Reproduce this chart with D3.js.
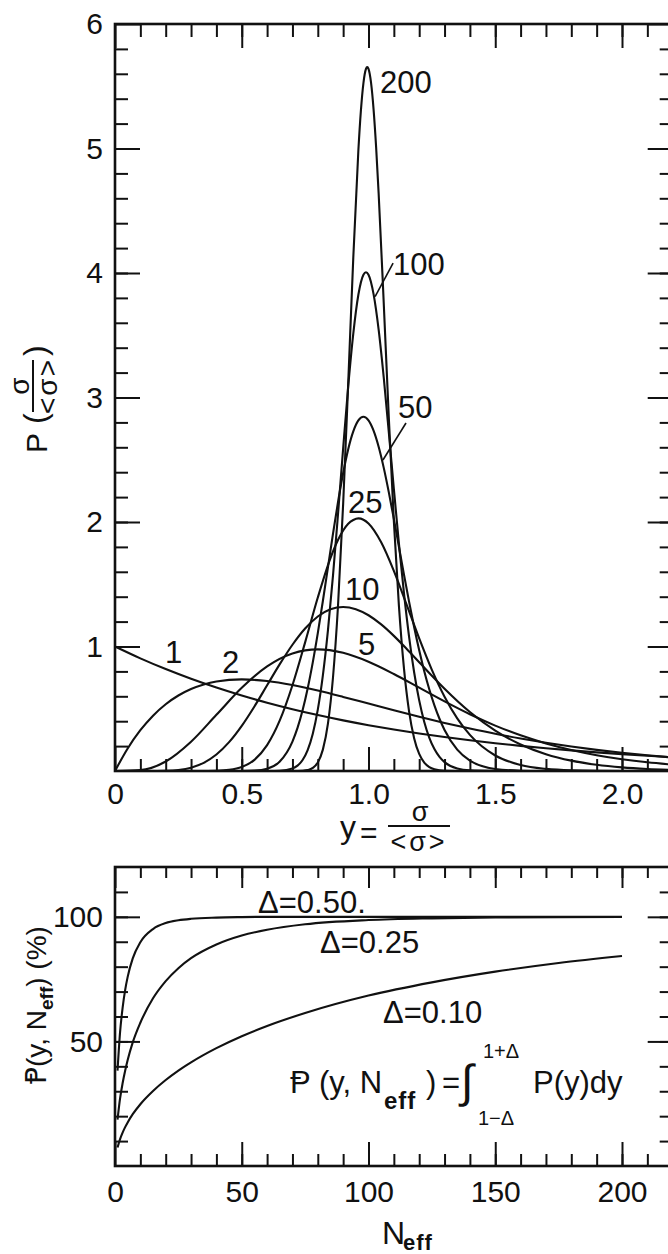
<!DOCTYPE html>
<html><head><meta charset="utf-8">
<script src="https://cdn.jsdelivr.net/npm/d3@7"></script>
<style>
html,body{margin:0;padding:0;background:#fff;}
svg{display:block;}
text{font-family:"Liberation Sans", Arial, "DejaVu Sans", sans-serif; fill:#111;}
</style></head><body>
<svg id="c" width="668" height="1254"></svg>
<script>
// ---------- DATA: top panel, P(y) for N_eff = 1,2,5,10,25,50,100,200 ----------
const pdf_1 = [[0,1],[0.1,0.9048],[0.2,0.8187],[0.3,0.7408],[0.4,0.6703],[0.5,0.6065],[0.6,0.5488],[0.7,0.4966],[0.8,0.4493],[0.9,0.4066],[1.0,0.3679],[1.1,0.3329],[1.2,0.3012],[1.3,0.2725],[1.4,0.2466],[1.5,0.2231],[1.6,0.2019],[1.7,0.1827],[1.8,0.1653],[1.9,0.1496],[2.0,0.1353],[2.1,0.1225],[2.2,0.1108]];
const pdf_2 = [[0,0],[0.05,0.181],[0.1,0.3275],[0.15,0.4445],[0.2,0.5363],[0.25,0.6065],[0.3,0.6586],[0.35,0.6952],[0.4,0.719],[0.5,0.7358],[0.6,0.7229],[0.7,0.6905],[0.8,0.646],[0.9,0.595],[1.0,0.5413],[1.1,0.4876],[1.2,0.4355],[1.3,0.3862],[1.4,0.3408],[1.5,0.2987],[1.6,0.2609],[1.7,0.2269],[1.8,0.1967],[1.9,0.17],[2.0,0.1465],[2.1,0.126],[2.2,0.1081]];
const pdf_5 = [[0,0],[0.1,0.0079],[0.2,0.0766],[0.3,0.2353],[0.4,0.4512],[0.5,0.6681],[0.6,0.8403],[0.7,0.9441],[0.8,0.9769],[0.9,0.9491],[1.0,0.8774],[1.1,0.7792],[1.2,0.6693],[1.3,0.5592],[1.4,0.4561],[1.5,0.3646],[1.6,0.2863],[1.7,0.2213],[1.8,0.1687],[1.9,0.127],[2.0,0.0946],[2.1,0.0697],[2.2,0.051]];
const pdf_10 = [[0.15,0.0002],[0.2,0.0019],[0.25,0.0086],[0.3,0.027],[0.35,0.0656],[0.4,0.1323],[0.45,0.2316],[0.5,0.3626],[0.55,0.5186],[0.6,0.6883],[0.65,0.8581],[0.7,1.0141],[0.75,1.1445],[0.8,1.2408],[0.85,1.2987],[0.9,1.3175],[0.95,1.3001],[1.0,1.2511],[1.05,1.1773],[1.1,1.0853],[1.15,0.9821],[1.2,0.8736],[1.25,0.7651],[1.3,0.6605],[1.4,0.4735],[1.5,0.3241],[1.6,0.2131],[1.7,0.1353],[1.8,0.0833],[1.9,0.0498],[2.0,0.0291],[2.1,0.0166],[2.2,0.0093]];
const pdf_25 = [[0.35,0.0003],[0.4,0.0018],[0.45,0.0089],[0.5,0.0318],[0.55,0.0897],[0.6,0.2075],[0.65,0.4059],[0.7,0.6887],[0.75,1.0332],[0.8,1.3934],[0.85,1.7103],[0.88,1.8574],[0.9,1.932],[0.92,1.9858],[0.94,2.016],[0.96,2.0288],[0.98,2.0184],[1.0,1.9881],[1.05,1.837],[1.1,1.6075],[1.15,1.3383],[1.2,1.0648],[1.25,0.8126],[1.3,0.5968],[1.35,0.4229],[1.4,0.2901],[1.5,0.1247],[1.6,0.0482],[1.7,0.0169],[1.8,0.0055],[2.0,0.0005],[2.2,0.0]];
const pdf_50 = [[0.5,0.0003],[0.55,0.0032],[0.6,0.0184],[0.65,0.0763],[0.7,0.2366],[0.72,0.346],[0.74,0.4871],[0.76,0.6622],[0.78,0.8702],[0.8,1.1068],[0.82,1.3652],[0.84,1.6357],[0.86,1.9062],[0.88,2.1634],[0.9,2.3936],[0.92,2.5851],[0.94,2.7278],[0.96,2.8157],[0.98,2.8451],[1.0,2.8162],[1.02,2.7336],[1.04,2.6044],[1.06,2.4366],[1.08,2.24],[1.1,2.0252],[1.12,1.8014],[1.14,1.5776],[1.16,1.3607],[1.18,1.1566],[1.2,0.9695],[1.22,0.8017],[1.24,0.6543],[1.26,0.5273],[1.28,0.4196],[1.3,0.3299],[1.35,0.1721],[1.4,0.084],[1.5,0.0166],[1.6,0.0026],[1.7,0.0]];
const pdf_100 = [[0.6,0.0001],[0.65,0.0019],[0.7,0.0197],[0.72,0.0433],[0.74,0.0883],[0.76,0.1675],[0.78,0.2969],[0.8,0.4926],[0.82,0.7681],[0.84,1.1299],[0.86,1.5708],[0.88,2.07],[0.9,2.5914],[0.92,3.0901],[0.94,3.5137],[0.96,3.8255],[0.98,3.9868],[0.99,4.0062],[1.0,3.9861],[1.02,3.8305],[1.04,3.5454],[1.06,3.1629],[1.08,2.7235],[1.1,2.267],[1.12,1.8266],[1.14,1.4259],[1.16,1.0794],[1.18,0.7932],[1.2,0.567],[1.22,0.3941],[1.24,0.2667],[1.26,0.176],[1.28,0.1133],[1.3,0.0711],[1.35,0.0201],[1.4,0.005],[1.5,0.0002]];
const pdf_200 = [[0.7,0.0001],[0.72,0.0005],[0.74,0.002],[0.76,0.0076],[0.78,0.0244],[0.8,0.0689],[0.82,0.1717],[0.84,0.3805],[0.86,0.7528],[0.88,1.3375],[0.9,2.1449],[0.92,3.1171],[0.94,4.1236],[0.96,4.9839],[0.97,5.3038],[0.98,5.526],[0.99,5.6395],[0.995,5.6538],[1.0,5.6396],[1.01,5.5287],[1.02,5.3149],[1.03,5.0128],[1.04,4.64],[1.06,3.7634],[1.08,2.8438],[1.1,2.0068],[1.12,1.3263],[1.14,0.8222],[1.16,0.4797],[1.18,0.2637],[1.2,0.1369],[1.22,0.0673],[1.24,0.0313],[1.26,0.0139],[1.3,0.0023],[1.4,0.0]];
const topCurves = [pdf_1, pdf_2, pdf_5, pdf_10, pdf_25, pdf_50, pdf_100, pdf_200];
const topLabels = ["1","2","5","10","25","50","100","200"];
const topLabelPos = [[0.197,0.867],[0.422,0.787],[0.959,0.932],[0.907,1.373],[0.919,2.072],[1.116,2.835],[1.097,3.984],[1.045,5.446]];
const topLeaders = [[[1.097,4.08],[1.026,3.81]],[[1.148,2.795],[1.057,2.498]]];

const topXTicks = [0, 0.5, 1.0, 1.5, 2.0];
const topXTickLabels = ["0","0.5","1.0","1.5","2.0"];
const topYTicks = [1,2,3,4,5,6];
const topYTickLabels = ["1","2","3","4","5","6"];

// ---------- DATA: bottom panel, probability (%) vs N_eff ----------
const nEff = [1,2,3,4,5,7,10,15,20,25,30,40,50,60,75,100,125,150,175,200];
const prob_050 = [38.3,53.7,63.5,70.6,75.9,83.3,89.8,95.1,97.5,98.6,99.2,99.7,99.9,100,100,100,100,100,100,100];
const prob_025 = [18.6,27.1,33.2,38.2,42.5,49.6,57.5,67.3,74.2,79.4,83.4,88.9,92.5,94.8,97.0,98.7,99.4,99.75,99.9,99.95];
const prob_010 = [7.4,10.8,13.4,15.6,17.5,20.8,24.8,30.1,34.5,38.3,41.6,47.3,52.1,56.2,61.4,68.4,73.7,78.0,81.5,84.3];
const botXTicks = [0,50,100,150,200];
const botXTickLabels = ["0","50","100","150","200"];
const botYTicks = [50,100];
const botYTickLabels = ["50","100"];

// ---------- DRAW ----------
const svg = d3.select("#c");
const ink = "#111";

// scales
const xT = d3.scaleLinear([0,2.2],[115,672.7]);
const yT = d3.scaleLinear([0,6],[771,24]);
const xB = d3.scaleLinear([0,220],[115,672.7]);
const yB = d3.scaleLinear([0,120],[1166,867]);

function styleAxis(g, fs){
  g.select(".domain").remove();
  g.selectAll(".tick line").attr("stroke", ink).attr("stroke-width", 2);
  g.selectAll(".tick text").attr("font-size", fs).attr("fill", ink)
   .attr("font-family", '"Liberation Sans", Arial, sans-serif');
}
function axes(xs, ys, xMinor, yMinor, xMaj, xMajLab, yMaj, yMajLab, xLen, yLen, xPad){
  const [x0,x1] = xs.range(), [y0,y1] = ys.range();
  svg.append("g").attr("transform",`translate(0,${y0})`)
    .call(d3.axisBottom(xs).tickValues(xMinor).tickSize(-xLen[0]).tickFormat("")).call(g=>styleAxis(g,30));
  svg.append("g").attr("transform",`translate(0,${y0})`)
    .call(d3.axisBottom(xs).tickValues(xMaj).tickSize(-xLen[1]).tickPadding(xPad).tickFormat((d,i)=>xMajLab[i])).call(g=>styleAxis(g,30));
  svg.append("g").attr("transform",`translate(0,${y1})`)
    .call(d3.axisTop(xs).tickValues(xMinor).tickSize(-xLen[2]).tickFormat("")).call(g=>styleAxis(g,30));
  svg.append("g").attr("transform",`translate(0,${y1})`)
    .call(d3.axisTop(xs).tickValues(xMaj).tickSize(-xLen[3]).tickFormat("")).call(g=>styleAxis(g,30));
  svg.append("g").attr("transform",`translate(${x0},0)`)
    .call(d3.axisLeft(ys).tickValues(yMinor).tickSize(-yLen[0]).tickFormat("")).call(g=>styleAxis(g,30));
  svg.append("g").attr("transform",`translate(${x0},0)`)
    .call(d3.axisLeft(ys).tickValues(yMaj).tickSize(-yLen[1]).tickPadding(12).tickFormat((d,i)=>yMajLab[i])).call(g=>styleAxis(g,30));
  svg.append("g").attr("transform",`translate(${x1},0)`)
    .call(d3.axisRight(ys).tickValues(yMinor).tickSize(-yLen[0]).tickFormat("")).call(g=>styleAxis(g,30));
  svg.append("g").attr("transform",`translate(${x1},0)`)
    .call(d3.axisRight(ys).tickValues(yMaj).tickSize(-yLen[1]).tickFormat("")).call(g=>styleAxis(g,30));
  svg.append("rect").attr("x",x0).attr("y",y1).attr("width",x1-x0).attr("height",y0-y1)
    .attr("fill","none").attr("stroke",ink).attr("stroke-width",2.6);
}

axes(xT, yT, d3.range(0.1,2.2,0.1).map(v=>+v.toFixed(2)), d3.range(0.2,6,0.2).map(v=>+v.toFixed(2)),
     topXTicks, topXTickLabels, topYTicks, topYTickLabels, [12,24,13,24], [13,25], 12);
axes(xB, yB, d3.range(10,220,10), d3.range(10,120,10),
     botXTicks, botXTickLabels, botYTicks, botYTickLabels, [12,24,11,21], [13,25], 15);

// top curves
const lineT = d3.line().x(d=>xT(d[0])).y(d=>yT(d[1])).curve(d3.curveMonotoneX);
svg.append("g").selectAll("path").data(topCurves).join("path")
  .attr("d", lineT).attr("fill","none").attr("stroke",ink).attr("stroke-width",2.1)
  .attr("stroke-linejoin","round");
svg.append("g").selectAll("text").data(topLabels).join("text")
  .attr("x",(d,i)=>xT(topLabelPos[i][0])).attr("y",(d,i)=>yT(topLabelPos[i][1]))
  .attr("font-size",31).text(d=>d);
svg.append("g").selectAll("line").data(topLeaders).join("line")
  .attr("x1",d=>xT(d[0][0])).attr("y1",d=>yT(d[0][1])).attr("x2",d=>xT(d[1][0])).attr("y2",d=>yT(d[1][1]))
  .attr("stroke",ink).attr("stroke-width",1.6);

// bottom curves
const botSeries = [prob_050, prob_025, prob_010];
const lineB = d3.line().x((d,i)=>xB(nEff[i])).y(d=>yB(d)).curve(d3.curveMonotoneX);
svg.append("g").selectAll("path").data(botSeries).join("path")
  .attr("d", lineB).attr("fill","none").attr("stroke",ink).attr("stroke-width",2.1);

function txt(x,y,s,fs,extra){
  const t = svg.append("text").attr("x",x).attr("y",y).attr("font-size",fs).text(s);
  if(extra) extra(t);
  return t;
}
txt(258,913,"Δ=0.50.",31);
txt(320,953,"Δ=0.25",31);
txt(383,1023,"Δ=0.10",31);
// formula
txt(290,1093,"Ᵽ",31,t=>t.attr("font-family","DejaVu Sans"));
txt(319,1093,"(y, N",31);
txt(384,1109,"eff",24,t=>t.attr("font-weight","bold").attr("letter-spacing",1));
txt(426,1093,")",31);
txt(442,1093,"=",31);
txt(461,1097,"∫",46,t=>t.attr("font-family","DejaVu Sans"));
txt(483,1058,"1+Δ",20);
txt(478,1125,"1−Δ",20);
txt(533,1093,"P(y)dy",31);

// x-axis title top
txt(340,838,"y",32);
txt(360,843,"=",30);
svg.append("line").attr("x1",388).attr("x2",450).attr("y1",826).attr("y2",826).attr("stroke",ink).attr("stroke-width",2);
txt(420,821,"σ",27,t=>t.attr("text-anchor","middle"));
txt(419,851,"<σ>",27,t=>t.attr("text-anchor","middle").attr("letter-spacing",3));

// y-axis title top (rotated)
const gy = svg.append("g").attr("transform","translate(40,400) rotate(-90)");
gy.append("text").attr("x",-53).attr("y",7).attr("font-size",30).text("P");
gy.append("text").attr("x",-24).attr("y",6).attr("font-size",32).text("(");
gy.append("line").attr("x1",-12).attr("x2",40).attr("y1",-7).attr("y2",-7).attr("stroke",ink).attr("stroke-width",2);
gy.append("text").attr("x",14).attr("y",-11).attr("font-size",28).attr("text-anchor","middle").text("σ");
gy.append("text").attr("x",14).attr("y",17).attr("font-size",28).attr("text-anchor","middle").attr("letter-spacing",2).text("<σ>");
gy.append("text").attr("x",44).attr("y",6).attr("font-size",32).text(")");

// x-axis title bottom
txt(382,1244,"N",32);
txt(403,1250,"eff",22,t=>t.attr("font-weight","bold").attr("letter-spacing",1));

// y-axis title bottom (rotated)
const gb = svg.append("g").attr("transform","translate(46,1005) rotate(-90)");
const tb = gb.append("text").attr("text-anchor","middle").attr("font-size",28);
tb.append("tspan").attr("font-family","DejaVu Sans").text("Ᵽ");
tb.append("tspan").text("(y, N");
tb.append("tspan").attr("dy",7).attr("font-size",19).attr("font-weight","bold").text("eff");
tb.append("tspan").attr("dy",-7).text(") (%)");
</script>
</body></html>
